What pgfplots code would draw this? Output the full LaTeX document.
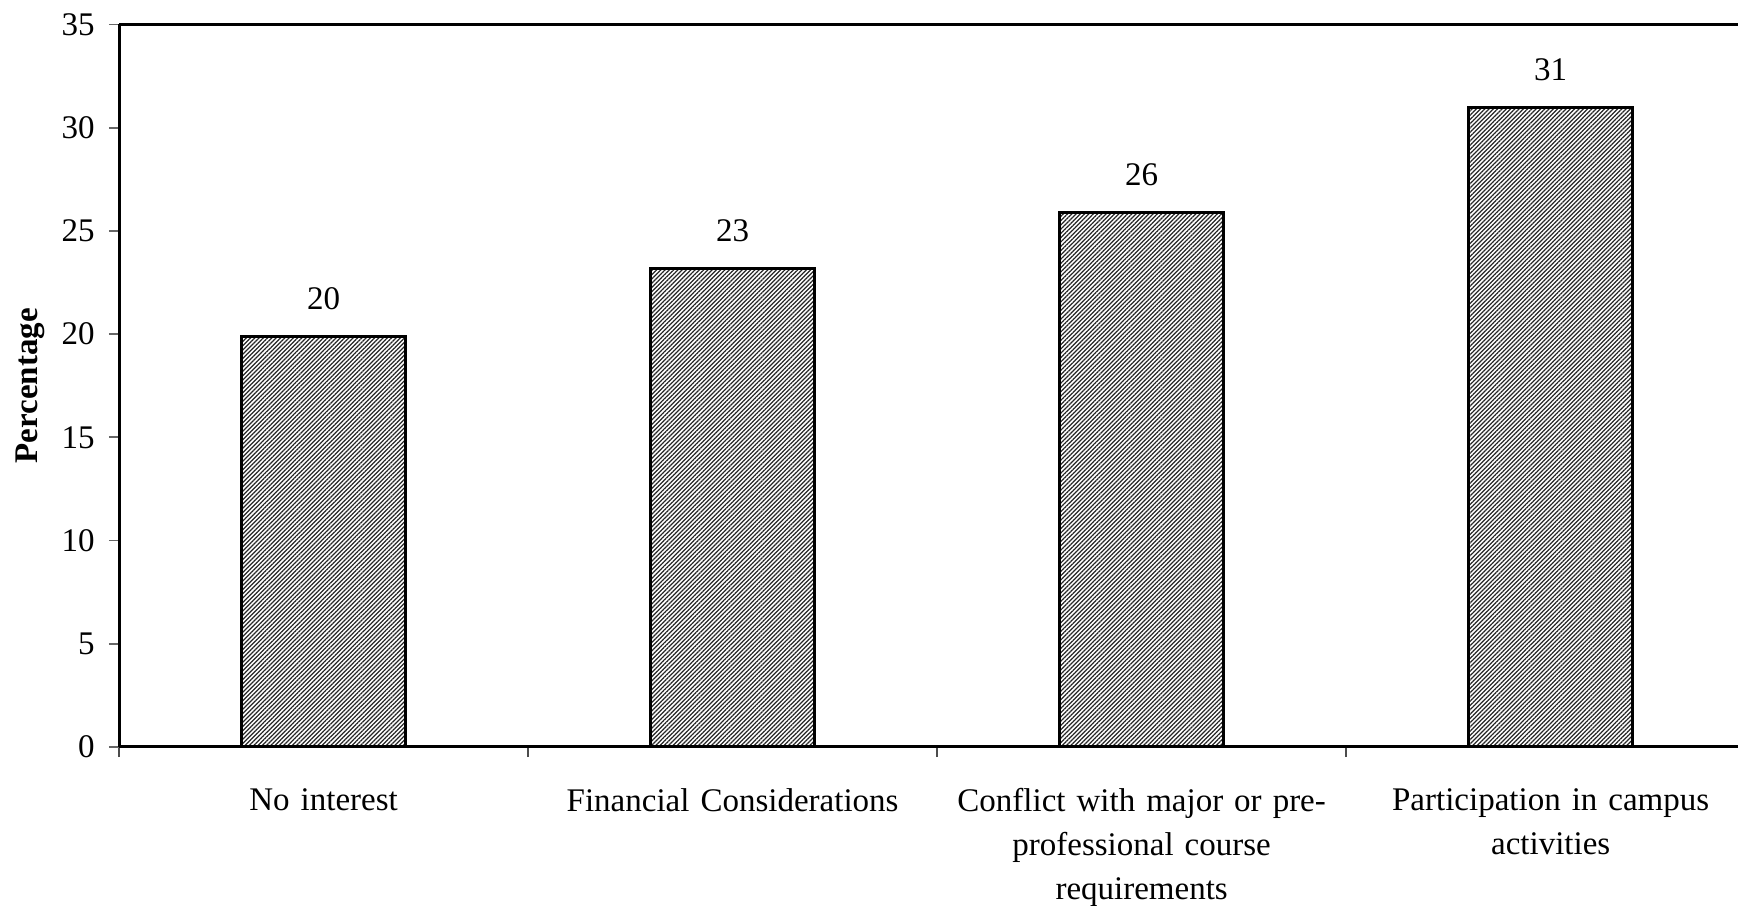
\documentclass[border=0pt]{standalone}
\usepackage{fontspec}
\setmainfont{Liberation Serif}
\usepackage{pgfplots}
\pgfplotsset{compat=1.18}
\usetikzlibrary{patterns.meta}
\begin{document}
\fontsize{12pt}{16pt}\selectfont
\begin{tikzpicture}
  \begin{axis}[
      scale only axis,
      width=588.7pt,
      height=262.7pt,
      ymin=0, ymax=35,
      ytick={0,5,...,35},
      xmin=-0.5, xmax=3.458,
      % category boundaries carry the tick marks
      xtick={-0.5,0.5,1.5,2.5},
      xticklabels={},
      x tick style={draw=black!70, line width=0.6pt},
      % category names sit at the bar centres, without marks
      extra x ticks={0,1,2,3},
      extra x tick labels={No interest,Financial Considerations,Conflict with major or pre-\\professional course\\requirements,Participation in campus\\activities},
      extra x tick style={major tick length=0pt,
        tick label style={align=center, text width=150pt, yshift=-11pt}},
      tick align=outside,
      major tick length=3.7pt,
      y tick style={draw=black!60, line width=0.6pt},
      y tick label style={xshift=-1pt},
      tick label style={font=\fontsize{12pt}{16pt}\selectfont},
      /pgf/number format/assume math mode=true,
      axis lines*=left,
      axis line style={line width=1.1pt},
      ylabel={\textbf{Percentage}},
      ylabel style={at={(axis description cs:-0.055,0.5)}, anchor=center, rotate=0, font=\fontsize{12pt}{16pt}\selectfont},
      ybar,
      bar width=59.6pt,
      nodes near coords,
      nodes near coords style={anchor=center, yshift=13.5pt, font=\fontsize{12pt}{16pt}\selectfont,
        /pgf/number format/fixed, /pgf/number format/precision=0},
      clip=false,
    ]
    \addplot[draw=black, line width=1.1pt,
      pattern={Lines[angle=45, distance=1.1pt, line width=0.45pt]}, pattern color=black!85]
      coordinates {(0,19.9) (1,23.2) (2,25.9) (3,31.0)};
    \draw[line width=1.1pt] (rel axis cs:0,1) -- (rel axis cs:1,1);
  \end{axis}
  \pgfresetboundingbox
  \useasboundingbox (-43.3pt,-57.5pt) rectangle (588.7pt,271.6pt);
\end{tikzpicture}
\end{document}
